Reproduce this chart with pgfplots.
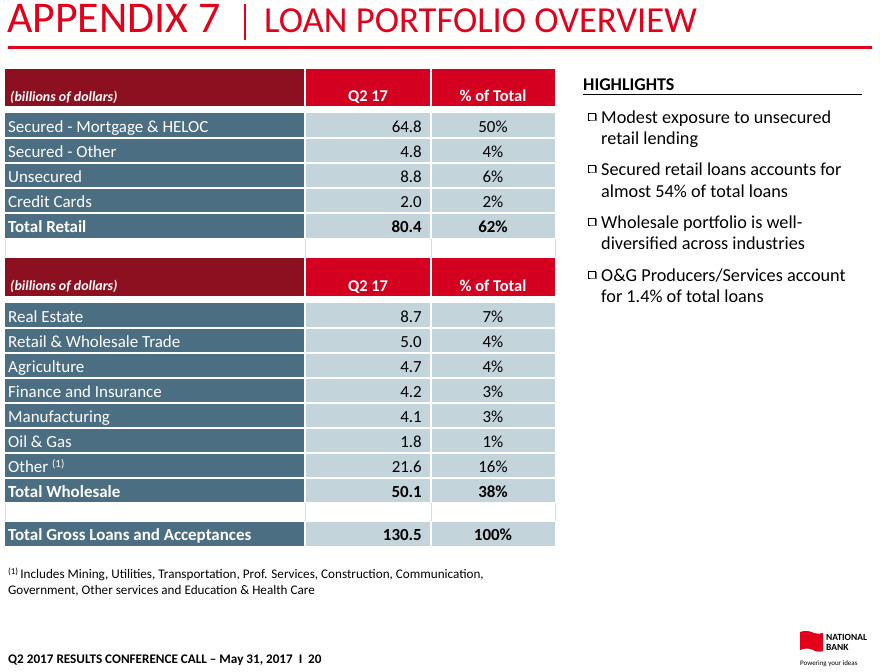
\documentclass[border=0pt]{standalone}
\usepackage{pgfplots}
\pgfplotsset{compat=1.18}
\usepackage{fontspec}
\setmainfont{Carlito}
\definecolor{nbred}{HTML}{E2001A}
\definecolor{hdark}{HTML}{8C1020}
\definecolor{hred}{HTML}{D4001F}
\definecolor{steel}{HTML}{4C6E82}
\definecolor{light}{HTML}{C4D4DB}
\definecolor{gridg}{HTML}{D9DEE2}
\newcommand\rowfont{\fontsize{17}{20}\selectfont}
\newcommand\hlfont{\fontsize{18.3}{21}\selectfont}
\newcommand\hdfont{\fontsize{16.5}{19}\selectfont\bfseries}
% background of a data row: top, bottom
\newcommand\rowbg[2]{%
  \fill[fill=steel] (5,#1) rectangle (304,#2);
  \fill[fill=light] (306,#1) rectangle (430,#2);
  \fill[fill=light] (432,#1) rectangle (555,#2);}
\newcommand\hdr[2]{%
  \fill[fill=hdark] (5,#1) rectangle (304,#2);
  \fill[fill=hred] (306,#1) rectangle (430,#2);
  \fill[fill=hred] (432,#1) rectangle (555,#2);}
\newcommand\lbl[2]{\node[anchor=base west,inner sep=0pt,text=white,font=\rowfont] at (8,#1) {#2};}
\newcommand\hlbullet[1]{%
  \draw[draw=black,line width=0.6pt] (588.5,#1-10) rectangle (595.5,#1-3);
  \draw[draw=black!55,line width=1.1pt] (589.5,#1-2.2) -- (596.3,#1-2.2) -- (596.3,#1-9);}
\begin{document}
\begin{tikzpicture}
\begin{axis}[
  scale only axis, width=882bp, height=672bp,
  xmin=0, xmax=882, ymin=0, ymax=672, y dir=reverse,
  hide axis, clip=false,
]
\path[draw=none] (0,0) rectangle (882,672);
% ---------- title ----------
\node[anchor=base west,inner sep=0pt,text=nbred,font=\fontsize{44}{48}\selectfont] at (7,33) {APPENDIX 7};
\fill[fill=nbred] (244,4) rectangle (246.2,40);
\node[anchor=base west,inner sep=0pt,text=nbred,font=\fontsize{36.8}{40}\selectfont] at (264,33) {LOAN PORTFOLIO OVERVIEW};
\fill[fill=nbred] (8,46.3) rectangle (872,48.7);

% ---------- table 1 ----------
\hdr{69}{106}
\node[anchor=base west,inner sep=0pt,text=white,font=\fontsize{14}{16}\selectfont\bfseries\itshape] at (10,101) {(billions of dollars)};
\node[anchor=base,inner sep=0pt,text=white,font=\hdfont] at (368,101) {Q2 17};
\node[anchor=base,inner sep=0pt,text=white,font=\hdfont] at (493,101) {\% of Total};
\rowbg{113}{137}
\rowbg{138.5}{162}
\rowbg{163.5}{187}
\rowbg{188.5}{212}
\rowbg{213.5}{238}
\lbl{132}{Secured - Mortgage \& HELOC}
\lbl{157}{Secured - Other}
\lbl{182}{Unsecured}
\lbl{207}{Credit Cards}
\lbl{232}{\bfseries Total Retail}
\draw[draw=gridg,line width=0.6pt] (5,239) -- (5,257) (305,239) -- (305,257) (431,239) -- (431,257) (555,239) -- (555,257);

% ---------- table 2 ----------
\hdr{258}{296}
\node[anchor=base west,inner sep=0pt,text=white,font=\fontsize{14}{16}\selectfont\bfseries\itshape] at (10,290) {(billions of dollars)};
\node[anchor=base,inner sep=0pt,text=white,font=\hdfont] at (368,291) {Q2 17};
\node[anchor=base,inner sep=0pt,text=white,font=\hdfont] at (493,291) {\% of Total};
\rowbg{303}{327}
\rowbg{328.5}{352}
\rowbg{353.5}{377}
\rowbg{378.5}{402}
\rowbg{403.5}{427}
\rowbg{428.5}{452}
\rowbg{453.5}{477}
\rowbg{478.5}{502}
\lbl{322}{Real Estate}
\lbl{347}{Retail \& Wholesale Trade}
\lbl{372}{Agriculture}
\lbl{397}{Finance and Insurance}
\lbl{422}{Manufacturing}
\lbl{447}{Oil \& Gas}
\lbl{472}{Other \raisebox{5pt}{\fontsize{11}{12}\selectfont(1)}}
\lbl{497}{\bfseries Total Wholesale}
\draw[draw=gridg,line width=0.6pt] (5,503) -- (5,521) (305,503) -- (305,521) (431,503) -- (431,521) (555,503) -- (555,521);
\rowbg{521.5}{546}
\lbl{540}{\bfseries Total Gross Loans and Acceptances}

% ---------- values (regular) ----------
\addplot[draw=none, mark=none, point meta=explicit symbolic, nodes near coords,
  every node near coord/.append style={anchor=base east, inner sep=0pt, font=\rowfont, text=black}]
  coordinates {(422,132) [64.8] (422,157) [4.8] (422,182) [8.8] (422,207) [2.0]
               (422,322) [8.7] (422,347) [5.0] (422,372) [4.7] (422,397) [4.2]
               (422,422) [4.1] (422,447) [1.8] (422,472) [21.6]};
\addplot[draw=none, mark=none, point meta=explicit symbolic, nodes near coords={\pgfplotspointmeta\%},
  every node near coord/.append style={anchor=base, inner sep=0pt, font=\rowfont, text=black}]
  coordinates {(493,132) [50] (493,157) [4] (493,182) [6] (493,207) [2]
               (493,322) [7] (493,347) [4] (493,372) [4] (493,397) [3]
               (493,422) [3] (493,447) [1] (493,472) [16]};
% ---------- values (totals) ----------
\addplot[draw=none, mark=none, point meta=explicit symbolic, nodes near coords,
  every node near coord/.append style={anchor=base east, inner sep=0pt, font=\rowfont\bfseries, text=black}]
  coordinates {(422,232) [80.4] (422,497) [50.1] (422,540) [130.5]};
\addplot[draw=none, mark=none, point meta=explicit symbolic, nodes near coords={\pgfplotspointmeta\%},
  every node near coord/.append style={anchor=base, inner sep=0pt, font=\rowfont\bfseries, text=black}]
  coordinates {(493,232) [62] (493,497) [38] (493,540) [100]};

% ---------- highlights ----------
\node[anchor=base west,inner sep=0pt,font=\fontsize{18}{21}\selectfont\bfseries] at (583,91) {HIGHLIGHTS};
\fill[fill=black] (583,93.9) rectangle (862,95.3);
\hlbullet{123}
\node[anchor=base west,inner sep=0pt,font=\hlfont] at (601,123) {Modest exposure to unsecured};
\node[anchor=base west,inner sep=0pt,font=\hlfont] at (601,144) {retail lending};
\hlbullet{175}
\node[anchor=base west,inner sep=0pt,font=\hlfont] at (601,175) {Secured retail loans accounts for};
\node[anchor=base west,inner sep=0pt,font=\hlfont] at (601,197) {almost 54\% of total loans};
\hlbullet{228}
\node[anchor=base west,inner sep=0pt,font=\hlfont] at (601,228) {Wholesale portfolio is well-};
\node[anchor=base west,inner sep=0pt,font=\hlfont] at (601,249) {diversified across industries};
\hlbullet{281}
\node[anchor=base west,inner sep=0pt,font=\hlfont] at (601,281) {O\&G Producers/Services account};
\node[anchor=base west,inner sep=0pt,font=\hlfont] at (601,302) {for 1.4\% of total loans};

% ---------- footnote & footer ----------
\node[anchor=base west,inner sep=0pt,font=\fontsize{13.2}{15}\selectfont] at (8,578) {\raisebox{3.5pt}{\fontsize{9}{10}\selectfont(1)}\,Includes Mining, Utilities, Transportation, Prof. Services, Construction, Communication,};
\node[anchor=base west,inner sep=0pt,font=\fontsize{13.2}{15}\selectfont] at (8,594) {Government, Other services and Education \& Health Care};
\node[anchor=base west,inner sep=0pt,font=\fontsize{13.2}{15}\selectfont\bfseries] at (8,663) {Q2 2017 RESULTS CONFERENCE CALL -- May 31, 2017 \ I \ 20};

% ---------- logo ----------
\fill[fill=nbred] (800,632) .. controls (805,630) and (810,631) .. (814,633) .. controls (817,634) and (820,634) .. (823,633)
  -- (823,651) .. controls (820,652) and (816,652) .. (813,650) .. controls (809,648) and (805,648) .. (800,650) -- cycle;
\node[anchor=base west,inner sep=0pt,font=\fontsize{9.5}{10}\selectfont\bfseries] at (826,640) {NATIONAL};
\node[anchor=base west,inner sep=0pt,font=\fontsize{9.5}{10}\selectfont\bfseries] at (826,650) {BANK};
\node[anchor=base west,inner sep=0pt,font=\fontsize{7}{8}\selectfont] at (800,665) {Powering your ideas};
\end{axis}
\end{tikzpicture}
\end{document}
